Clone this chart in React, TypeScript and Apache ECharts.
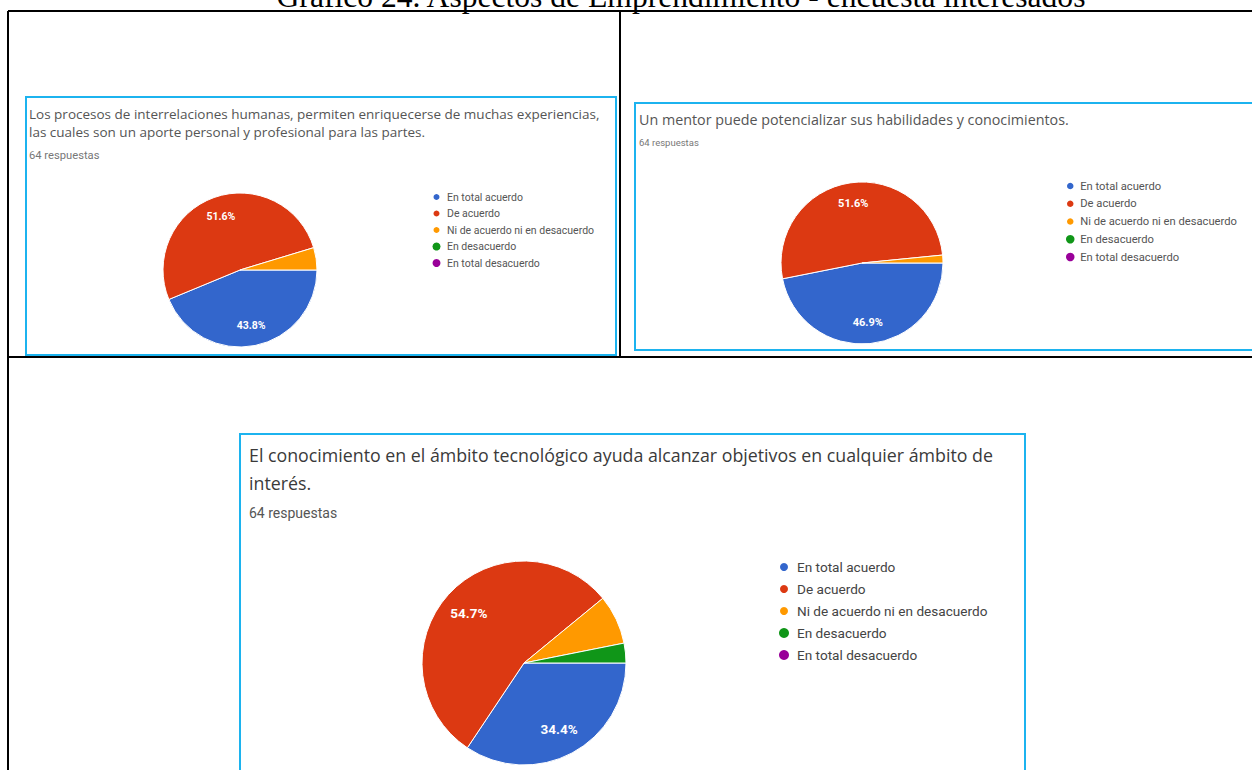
import React, { useEffect, useRef } from 'react';
import * as echarts from 'echarts';

// Survey answer categories and Google-Forms style slice colours
const categories = [
  'En total acuerdo',
  'De acuerdo',
  'Ni de acuerdo ni en desacuerdo',
  'En desacuerdo',
  'En total desacuerdo',
];
const sliceColors = ['#3366cc', '#dc3912', '#ff9900', '#109618', '#990099'];

// Answer counts (64 responses per question)
const relacionesValues = [28, 33, 3, 0, 0];
const mentorValues = [30, 33, 1, 0, 0];
const tecnologiaValues = [22, 35, 5, 2, 0];

const mainTitle = 'Gráfico 24. Aspectos de Emprendimiento - encuesta interesados';
const relacionesQuestion = [
  'Los procesos de interrelaciones humanas, permiten enriquecerse de muchas experiencias,',
  'las cuales son un aporte personal y profesional para las partes.',
];
const mentorQuestion = ['Un mentor puede potencializar sus habilidades y conocimientos.'];
const tecnologiaQuestion = [
  'El conocimiento en el ámbito tecnológico ayuda alcanzar objetivos en cualquier ámbito de',
  'interés.',
];
const responsesLabel = '64 respuestas';

type Panel = {
  values: number[];
  question: string[];
  box: [number, number, number, number];
  textX: number;
  lineYs: number[];
  titleSize: number;
  titleColor: string;
  respY: number;
  respSize: number;
  respColor: string;
  center: [number, number];
  radius: number;
  labelSize: number;
  legendLeft: number;
  legendFirstY: number;
  legendStep: number;
  legendFont: number;
  dotW: number;
  dotH: number;
  legendColor: string;
};

const panels: Panel[] = [
  {
    values: relacionesValues,
    question: relacionesQuestion,
    box: [26, 97, 590, 258],
    textX: 29,
    lineYs: [114, 132],
    titleSize: 13.5,
    titleColor: '#555',
    respY: 155,
    respSize: 11.2,
    respColor: '#777',
    center: [240, 270],
    radius: 77,
    labelSize: 10.5,
    legendLeft: 431.5,
    legendFirstY: 197,
    legendStep: 16.5,
    legendFont: 10.5,
    dotW: 11,
    dotH: 8,
    legendColor: '#555',
  },
  {
    values: mentorValues,
    question: mentorQuestion,
    box: [635, 103, 700, 247],
    textX: 639,
    lineYs: [119],
    titleSize: 14.3,
    titleColor: '#555',
    respY: 142,
    respSize: 9.5,
    respColor: '#777',
    center: [862, 263],
    radius: 81,
    labelSize: 11,
    legendLeft: 1065,
    legendFirstY: 186,
    legendStep: 17.75,
    legendFont: 11.2,
    dotW: 10,
    dotH: 8.5,
    legendColor: '#555',
  },
  {
    values: tecnologiaValues,
    question: tecnologiaQuestion,
    box: [240, 434, 785, 400],
    textX: 249,
    lineYs: [455, 483],
    titleSize: 17.8,
    titleColor: '#3a3a3a',
    respY: 513,
    respSize: 14,
    respColor: '#555',
    center: [524, 663],
    radius: 102,
    labelSize: 13.5,
    legendLeft: 778,
    legendFirstY: 567,
    legendStep: 22,
    legendFont: 13.6,
    dotW: 16,
    dotH: 10,
    legendColor: '#444',
  },
];

function buildPanel(p: Panel, idx: number) {
  const total = p.values.reduce((a, b) => a + b, 0);
  const sliceData = categories.map((name, i) => ({
    name,
    value: p.values[i],
    itemStyle: { color: sliceColors[i], borderWidth: p.values[i] > 0 ? 1 : 0 },
  }));
  const labelData = categories.map((name, i) => ({ name, value: p.values[i] }));

  const series = [
    {
      type: 'pie',
      id: `slices-${idx}`,
      center: p.center,
      radius: p.radius,
      startAngle: 0,
      clockwise: true,
      avoidLabelOverlap: false,
      silent: true,
      data: sliceData,
      itemStyle: { borderColor: '#ffffff', borderWidth: 1 },
      label: { show: false },
      labelLine: { show: false },
      emphasis: { disabled: true },
    },
    {
      // transparent twin ring: its inside labels sit at 70% of the visible radius
      type: 'pie',
      id: `labels-${idx}`,
      center: p.center,
      radius: p.radius * 1.4,
      startAngle: 0,
      clockwise: true,
      avoidLabelOverlap: false,
      silent: true,
      data: labelData,
      itemStyle: { color: 'rgba(0,0,0,0)', borderWidth: 0 },
      label: {
        show: true,
        position: 'inside',
        color: '#ffffff',
        fontFamily: 'Roboto',
        fontWeight: 'bold',
        fontSize: p.labelSize,
        formatter: (q: any) => {
          const pct = (q.value / total) * 100;
          return pct >= 10 ? `${pct.toFixed(1)}%` : '';
        },
      },
      labelLine: { show: false },
      emphasis: { disabled: true },
    },
  ];

  const legend = {
    orient: 'vertical',
    left: p.legendLeft,
    top: p.legendFirstY - p.legendStep / 2,
    padding: 0,
    itemGap: 0,
    itemWidth: p.dotW,
    itemHeight: p.dotH,
    icon: 'circle',
    selectedMode: false,
    textStyle: {
      fontFamily: 'Roboto',
      fontSize: p.legendFont,
      lineHeight: p.legendStep,
      color: p.legendColor,
    },
    data: categories.map((name, i) => ({ name, itemStyle: { color: sliceColors[i] } })),
  };

  const [bx, by, bw, bh] = p.box;
  const graphics: any[] = [
    {
      type: 'rect',
      shape: { x: bx, y: by, width: bw, height: bh },
      style: { fill: 'none', stroke: '#1cb3ef', lineWidth: 2 },
      silent: true,
    },
    ...p.question.map((line, i) => ({
      type: 'text',
      x: p.textX,
      y: p.lineYs[i],
      style: {
        text: line,
        fontFamily: 'Open Sans',
        fontSize: p.titleSize,
        fill: p.titleColor,
        align: 'left',
        verticalAlign: 'middle',
      },
      silent: true,
    })),
    {
      type: 'text',
      x: p.textX,
      y: p.respY,
      style: {
        text: responsesLabel,
        fontFamily: 'Roboto',
        fontSize: p.respSize,
        fill: p.respColor,
        align: 'left',
        verticalAlign: 'middle',
      },
      silent: true,
    },
  ];

  return { series, legend, graphics };
}

export default function App() {
  const ref = useRef<HTMLDivElement>(null);

  useEffect(() => {
    if (!ref.current) return;
    const chart = echarts.init(ref.current, undefined, { renderer: 'svg' });
    const built = panels.map((p, i) => buildPanel(p, i));

    // table rules of the document page
    const rules = [
      { x1: 8, y1: 11, x2: 1252, y2: 11 },
      { x1: 8, y1: 11, x2: 8, y2: 770 },
      { x1: 620, y1: 11, x2: 620, y2: 357 },
      { x1: 8, y1: 357, x2: 1252, y2: 357 },
    ].map((shape) => ({
      type: 'line',
      shape,
      style: { stroke: '#000000', lineWidth: 2 },
      silent: true,
    }));

    chart.setOption({
      animation: false,
      backgroundColor: '#ffffff',
      legend: built.map((b) => b.legend),
      series: built.flatMap((b) => b.series),
      graphic: [
        ...rules,
        {
          type: 'text',
          x: 681,
          y: -3.5,
          style: {
            text: mainTitle,
            fontFamily: 'Liberation Serif',
            fontSize: 31.6,
            fill: '#000000',
            align: 'center',
            verticalAlign: 'middle',
          },
          silent: true,
        },
        ...built.flatMap((b) => b.graphics),
      ],
    });

    return () => chart.dispose();
  }, []);

  return (
    <div
      ref={ref}
      style={{ position: 'fixed', left: 0, top: 0, width: 1252, height: 770, background: '#ffffff' }}
    />
  );
}
